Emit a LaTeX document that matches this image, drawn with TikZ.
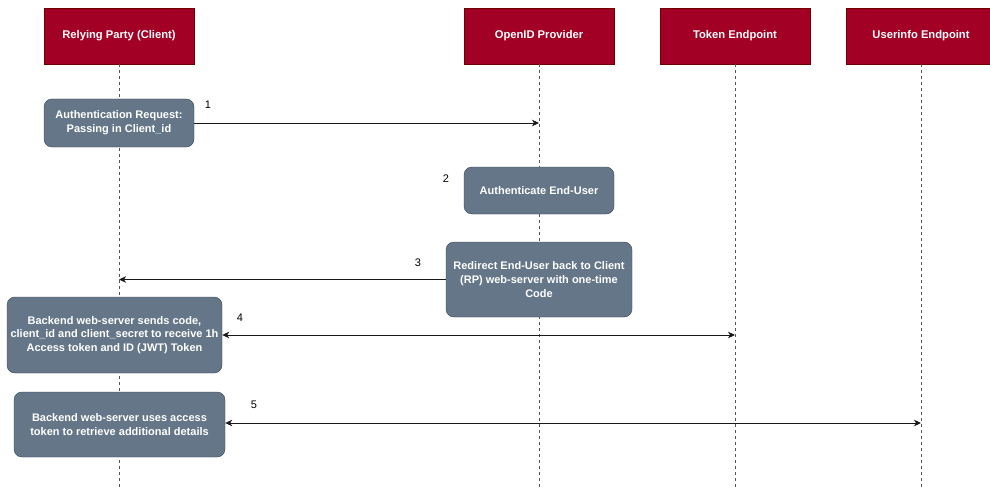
\documentclass[tikz,border=0pt]{standalone}
\usepackage{fontspec}
\setmainfont{Liberation Sans}
\usetikzlibrary{arrows.meta}
\definecolor{hdr}{HTML}{A20025}
\definecolor{hdrline}{HTML}{6F0000}
\definecolor{act}{HTML}{647687}
\definecolor{actline}{HTML}{314354}
\definecolor{lifec}{HTML}{555555}
\begin{document}
\begin{tikzpicture}[x=1pt,y=-1pt,
  header/.style={draw=hdrline, fill=hdr, minimum width=150pt, minimum height=56pt, text=white,
    font=\fontsize{11.2}{13.5}\selectfont\bfseries, inner sep=0pt},
  actbox/.style={draw=actline, fill=act, rounded corners=8pt, text=white,
    font=\fontsize{11}{13.8}\selectfont\bfseries, align=center, inner sep=0pt},
  life/.style={draw=lifec, dash pattern=on 3pt off 3pt, line width=0.9pt},
  msg/.style={draw=black!90, line width=0.9pt},
  tip/.style={-{Stealth[length=7pt,width=6.5pt,inset=2pt]}},
  tips/.style={{Stealth[length=7pt,width=6.5pt,inset=2pt]}-{Stealth[length=7pt,width=6.5pt,inset=2pt]}},
  num/.style={font=\fontsize{11}{13}\selectfont, inner sep=0pt}]
\useasboundingbox (0,0) rectangle (990,492);
\fill[white] (0,0) rectangle (990,492);

% headers
\node[header] (rp) at (119,36) {Relying Party (Client)};
\node[header] (op) at (539,36) {OpenID Provider};
\node[header] (te) at (735,36) {Token Endpoint};
\node[header] (ue) at (921,36) {Userinfo Endpoint};

% lifeline ends
\coordinate (rpend) at (119,487);
\coordinate (opend) at (539,487);
\coordinate (teend) at (735,487);
\coordinate (ueend) at (921,487);
\draw[life] (rp.south) -- (rpend);
\draw[life] (op.south) -- (opend);
\draw[life] (te.south) -- (teend);
\draw[life] (ue.south) -- (ueend);

% activation boxes
\node[actbox, minimum width=150pt, minimum height=48pt] (auth) at (119,123)
  {Authentication Request:\\Passing in Client\_id};
\node[actbox, minimum width=150pt, minimum height=47pt] (authu) at (539,190.5)
  {Authenticate End-User};
\node[actbox, minimum width=186pt, minimum height=75pt] (redir) at (539,279.5)
  {Redirect End-User back to Client\\(RP) web-server with one-time\\Code};
\node[actbox, minimum width=215pt, minimum height=76pt] (code) at (114.5,335)
  {Backend web-server sends code,\\client\_id and client\_secret to receive 1h\\Access token and ID (JWT) Token};
\node[actbox, minimum width=211pt, minimum height=65pt] (uinfo) at (119.5,424.5)
  {Backend web-server uses access\\token to retrieve additional details};

% message endpoints on lifelines
\coordinate (m1) at (539,123);
\coordinate (m3) at (119,279.5);
\coordinate (m4) at (735,335);
\coordinate (m5) at (921,423);

\draw[msg,tip] (auth.east) -- (m1);
\draw[msg,tip] (redir.west) -- (m3);
\draw[msg,tips] (code.east) -- (m4);
\draw[msg,tips] (uinfo.east |- m5) -- (m5);

% labels
\node[num] (n1) at (208,105) {1};
\node[num] (n2) at (446,179) {2};
\node[num] (n3) at (418,263) {3};
\node[num] (n4) at (240,318) {4};
\node[num] (n5) at (254,405) {5};
\end{tikzpicture}
\end{document}
